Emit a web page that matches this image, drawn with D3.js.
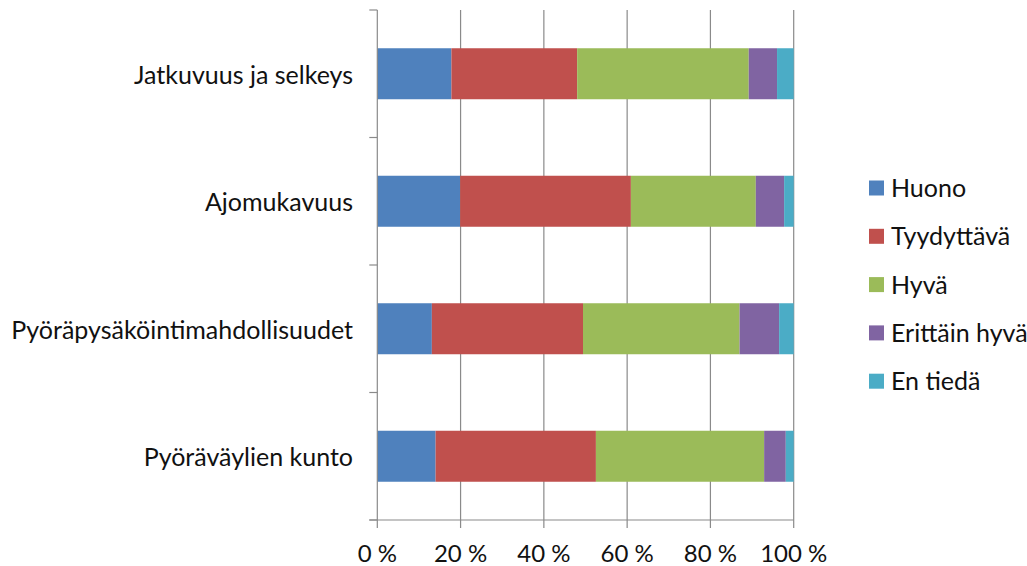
<!DOCTYPE html>
<html><head><meta charset="utf-8">
<script src="https://cdn.jsdelivr.net/npm/d3@7"></script>
<style>body{margin:0;background:#fff}svg{display:block}text{font-family:Lato,"Noto Sans",sans-serif;fill:#111}</style>
</head><body><svg id="c" width="1027" height="566"></svg>
<script>
const categories = ["Jatkuvuus ja selkeys","Ajomukavuus","Pyöräpysäköintimahdollisuudet","Pyöräväylien kunto"];
const seriesNames = ["Huono","Tyydyttävä","Hyvä","Erittäin hyvä","En tiedä"];
const huono      = [17.8, 19.9, 13.1, 14.0];
const tyydyttava = [30.2, 41.0, 36.3, 38.5];
const hyva       = [41.2, 30.0, 37.6, 40.4];
const erittain   = [6.8, 6.8, 9.5, 5.2];
const enTieda    = [4.0, 2.3, 3.5, 1.9];
const tickValues = [0,20,40,60,80,100];
const tickLabels = ["0 %","20 %","40 %","60 %","80 %","100 %"];
const colors = ["#4F81BD","#C0504D","#9BBB59","#8064A2","#4BACC6"];

(function(){
const seriesVals = [huono,tyydyttava,hyva,erittain,enTieda];
const rows = categories.map((c,i)=>{const o={cat:c}; seriesNames.forEach((s,j)=>o[s]=seriesVals[j][i]); return o;});
const stack = d3.stack().keys(seriesNames)(rows);

const svg = d3.select("#c");
const pL=377.3, pR=793.7, pT=10, pB=520;
const x = d3.scaleLinear().domain([0,100]).range([pL,pR]);
const y = d3.scaleBand().domain(categories).range([pT,pB]).paddingInner(0.6).paddingOuter(0.3);

svg.append("g").selectAll("line").data(tickValues.slice(1)).join("line")
  .attr("x1",d=>x(d)).attr("x2",d=>x(d)).attr("y1",pT).attr("y2",pB+8)
  .attr("stroke","#8a8a8a").attr("stroke-width",1.2);

svg.append("g").selectAll("g").data(stack).join("g").attr("fill",(d,i)=>colors[i])
  .selectAll("rect").data(d=>d).join("rect")
  .attr("x",d=>x(d[0])).attr("width",d=>x(d[1])-x(d[0]))
  .attr("y",d=>y(d.data.cat)).attr("height",y.bandwidth());

const yTicks = d3.range(categories.length+1).map(i=>pT+(pB-pT)*i/categories.length);
svg.append("line").attr("x1",pL).attr("x2",pL).attr("y1",pT).attr("y2",pB+8).attr("stroke","#8a8a8a").attr("stroke-width",1.2);
svg.append("g").selectAll("line").data(yTicks).join("line")
  .attr("x1",pL-8).attr("x2",pL).attr("y1",d=>d).attr("y2",d=>d).attr("stroke","#8a8a8a").attr("stroke-width",1.2);
svg.append("line").attr("x1",pL-8).attr("x2",pR).attr("y1",pB).attr("y2",pB).attr("stroke","#8a8a8a").attr("stroke-width",1.2);

svg.append("g").selectAll("text").data(tickValues).join("text")
  .attr("x",d=>x(d)).attr("y",562).attr("text-anchor","middle").attr("font-size",24)
  .text((d,i)=>tickLabels[i]);

svg.append("g").selectAll("text").data(categories).join("text")
  .attr("x",353).attr("y",d=>y(d)+y.bandwidth()/2+10).attr("text-anchor","end").attr("font-size",25)
  .text(d=>d);

const lg = svg.append("g").selectAll("g").data(seriesNames).join("g")
  .attr("transform",(d,i)=>`translate(869,${188+i*48.3})`);
lg.append("rect").attr("x",0).attr("y",-7.5).attr("width",15).attr("height",15).attr("fill",(d,i)=>colors[i]);
lg.append("text").attr("x",22).attr("y",9).attr("font-size",25).text(d=>d);
})();
</script></body></html>
